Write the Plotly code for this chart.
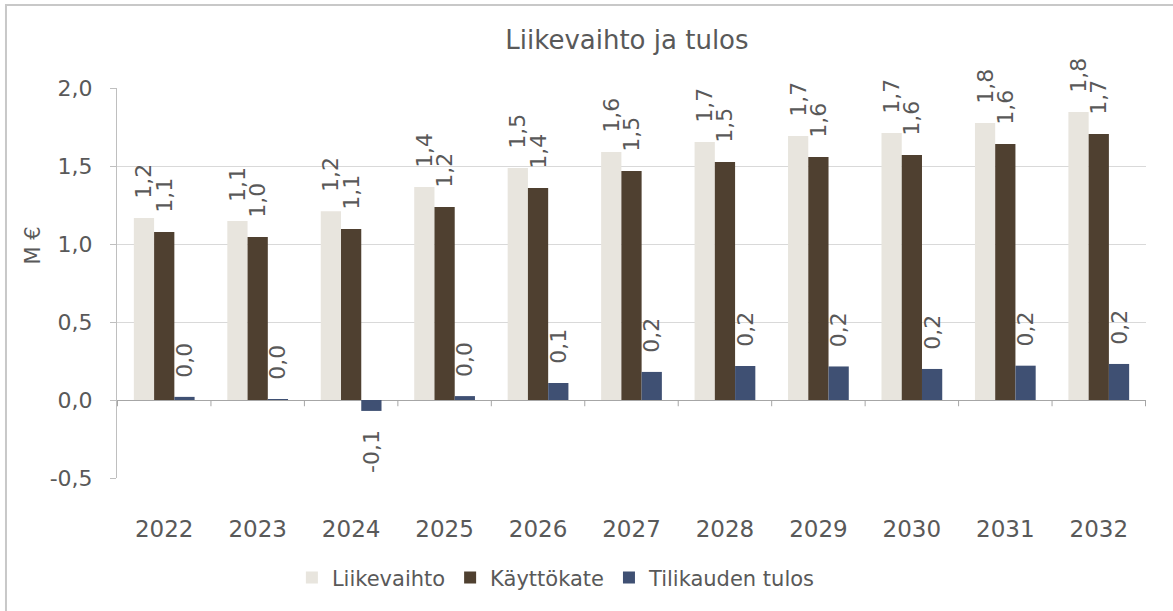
import plotly.graph_objects as go

years = ["2022", "2023", "2024", "2025", "2026", "2027", "2028", "2029", "2030", "2031", "2032"]
liikevaihto = [1.167, 1.147, 1.210, 1.365, 1.487, 1.590, 1.654, 1.692, 1.712, 1.776, 1.846]
kayttokate = [1.077, 1.045, 1.096, 1.237, 1.359, 1.468, 1.526, 1.558, 1.571, 1.641, 1.705]
tulos = [0.020, 0.003, -0.070, 0.025, 0.109, 0.180, 0.218, 0.215, 0.199, 0.220, 0.231]
series_names = ["Liikevaihto", "Käyttökate", "Tilikauden tulos"]
series_colors = ["#E8E5DE", "#4F4030", "#3F5073"]
y_ticks = [-0.5, 0.0, 0.5, 1.0, 1.5, 2.0]

FONT = "Verdana, DejaVu Sans, sans-serif"
TXT = "#595959"
GAP = "\u00a0\u00a0\u200a"


def fmt(v):
    s = f"{v:.1f}".replace(".", ",")
    if s == "-0,0":
        s = "0,0"
    return s


def label(v):
    return (fmt(v) + GAP) if v < 0 else (GAP + fmt(v))


fig = go.Figure()
for name, vals, col in zip(series_names, [liikevaihto, kayttokate, tulos], series_colors):
    fig.add_trace(go.Bar(
        x=years, y=vals, name=name,
        marker=dict(color=col, line=dict(width=0)),
        text=[label(v) for v in vals],
        textposition="outside", textangle=-90,
        constraintext="none", cliponaxis=False,
        textfont=dict(family=FONT, size=22, color=TXT),
        hoverinfo="skip",
    ))

# category boundary ticks on the zero line
for i in range(len(years) + 1):
    fig.add_shape(type="line", xref="x", yref="y",
                  x0=i - 0.5, x1=i - 0.5, y0=0, y1=-0.04,
                  line=dict(color="#A6A6A6", width=1))

# outer chart border
fig.add_shape(type="rect", xref="paper", yref="paper",
              x0=-0.1079, x1=1.1, y0=-0.38, y1=1.2128,
              line=dict(color="#C8C8C8", width=2), layer="below")

fig.add_annotation(text="M €", xref="paper", yref="paper",
                   x=-0.082, y=0.595, xanchor="center", yanchor="middle",
                   showarrow=False, textangle=-90,
                   font=dict(family=FONT, size=21, color=TXT))

fig.update_layout(
    width=1173, height=611,
    margin=dict(l=117, r=27, t=88, b=133),
    paper_bgcolor="white", plot_bgcolor="white",
    barmode="group", bargap=0.35, bargroupgap=0,
    font=dict(family=FONT, color=TXT),
    title=dict(text="Liikevaihto ja tulos", x=0.5345, xanchor="center",
               y=0.935, yanchor="middle",
               font=dict(family=FONT, size=26, color=TXT)),
    xaxis=dict(type="category", showline=False, ticks="", showgrid=False,
               ticklabelstandoff=35,
               tickfont=dict(family=FONT, size=23, color=TXT)),
    yaxis=dict(range=[-0.5, 2.0], tickvals=y_ticks,
               ticktext=[fmt(v) for v in y_ticks],
               showline=True, linecolor="#BFBFBF", linewidth=1,
               ticks="outside", ticklen=6, tickcolor="#BFBFBF",
               ticklabelstandoff=13,
               showgrid=True, gridcolor="#D9D9D9", gridwidth=1,
               zeroline=True, zerolinecolor="#A6A6A6", zerolinewidth=1,
               tickfont=dict(family=FONT, size=22, color=TXT)),
    legend=dict(orientation="h", x=0.427, xanchor="center", y=-0.256,
                yanchor="middle", itemwidth=30,
                font=dict(family=FONT, size=21, color=TXT),
                traceorder="normal"),
    showlegend=True,
)

fig.write_html("out.html", config={"displayModeBar": False},
               post_script="document.body.style.margin='0';")
